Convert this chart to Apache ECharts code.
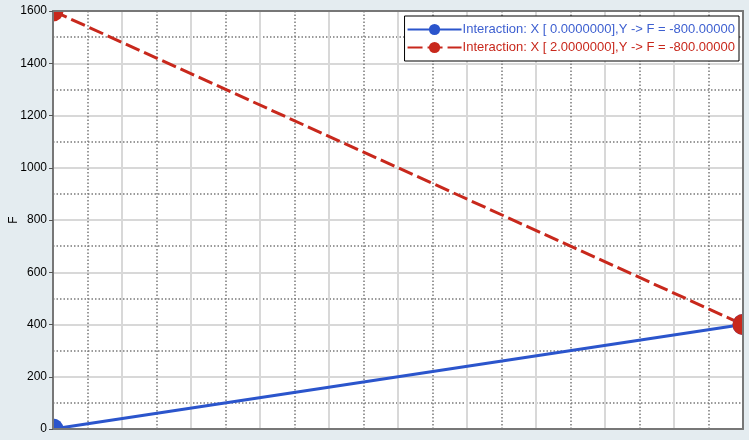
<!DOCTYPE html>
<html><head><meta charset="utf-8">
<script src="https://cdn.jsdelivr.net/npm/echarts@6/dist/echarts.min.js"></script>
<style>html,body{margin:0;padding:0;background:#e4ecf0}#c{width:749px;height:440px}</style>
</head><body><div id="c"></div>
<script>
const xValues = [0, 1];
const blueValues = [0, 400];
const redValues = [1600, 400];
const seriesNames = ['Interaction: X [ 0.0000000],Y -> F = -800.00000', 'Interaction: X [ 2.0000000],Y -> F = -800.00000'];
const yTicks = [0, 200, 400, 600, 800, 1000, 1200, 1400, 1600];

const BG = '#e4ecf0';
const L = 53, R = 6, T = 11, B = 11, W = 749, H = 440;
const chart = echarts.init(document.getElementById('c'), null, {renderer: 'canvas'});
const font = 'Liberation Sans, Arial, sans-serif';
const gridLine = {show: true, lineStyle: {color: '#d8d8d8', width: 2}};
const minorLine = {show: true, lineStyle: {color: '#7a7a7a', width: 1.5, type: [1.5, 2]}};
chart.setOption({
  backgroundColor: BG,
  animation: false,
  grid: {left: L, right: R, top: T, bottom: B, show: true, backgroundColor: '#fff', borderWidth: 0,
         containLabel: false, outerBoundsMode: 'none'},
  xAxis: [
    {type: 'value', min: xValues[0], max: xValues[xValues.length-1], interval: 0.1,
     axisLabel: {show: false}, axisTick: {show: false}, axisLine: {show: false},
     splitLine: gridLine, minorTick: {show: false, splitNumber: 2}, minorSplitLine: minorLine},
    {type: 'value', position: 'bottom', min: 0, max: 1, z: 10,
     axisLabel: {show: false}, axisTick: {show: false}, splitLine: {show: false},
     axisLine: {show: true, onZero: false, lineStyle: {color: '#777', width: 2}}},
    {type: 'value', position: 'top', min: 0, max: 1, z: 10,
     axisLabel: {show: false}, axisTick: {show: false}, splitLine: {show: false},
     axisLine: {show: true, onZero: false, lineStyle: {color: '#777', width: 2}}}
  ],
  yAxis: [
    {type: 'value', min: yTicks[0], max: yTicks[yTicks.length-1], interval: 200,
     axisLabel: {show: false}, axisTick: {show: false}, axisLine: {show: false},
     splitLine: gridLine, minorTick: {show: false, splitNumber: 2}, minorSplitLine: minorLine},
    {type: 'value', position: 'left', min: yTicks[0], max: yTicks[yTicks.length-1], interval: 200, z: 10,
     name: 'F', nameLocation: 'middle', nameGap: 33, nameRotate: 90, nameMoveOverlap: false,
     nameTextStyle: {color: '#000', fontFamily: font, fontSize: 12},
     axisLabel: {color: '#000', fontFamily: font, fontSize: 12, margin: 6, formatter: v => String(v)},
     axisTick: {show: true, length: 4, lineStyle: {color: '#555', width: 1}},
     axisLine: {show: true, onZero: false, lineStyle: {color: '#777', width: 2}},
     splitLine: {show: false}},
    {type: 'value', position: 'right', min: 0, max: 1600, z: 10,
     axisLabel: {show: false}, axisTick: {show: false}, splitLine: {show: false},
     axisLine: {show: true, onZero: false, lineStyle: {color: '#777', width: 2}}}
  ],
  graphic: [
    {type: 'rect', z: 5, silent: true, shape: {x: 0, y: 0, width: L, height: H}, style: {fill: BG}},
    {type: 'rect', z: 5, silent: true, shape: {x: 0, y: 0, width: W, height: T}, style: {fill: BG}},
    {type: 'rect', z: 5, silent: true, shape: {x: W - R, y: 0, width: R, height: H}, style: {fill: BG}},
    {type: 'rect', z: 5, silent: true, shape: {x: 0, y: H - B, width: W, height: B}, style: {fill: BG}}
  ],
  legend: {
    orient: 'vertical', right: 10, top: 16, z: 6,
    backgroundColor: '#fff', borderColor: '#000', borderWidth: 1, borderRadius: 0,
    padding: [7, 4, 7, 2], itemGap: 5, itemWidth: 54, itemHeight: 14,
    textStyle: {fontFamily: font, fontSize: 13, padding: [0, 0, 0, -4]},
    data: [
      {name: seriesNames[0], textStyle: {color: '#3d5fd0'}},
      {name: seriesNames[1], textStyle: {color: '#c8281c'}}
    ]
  },
  series: [
    {name: seriesNames[0], type: 'line', data: xValues.map((x, i) => [x, blueValues[i]]),
     symbol: 'circle', symbolSize: 21, showAllSymbol: true, clip: false,
     itemStyle: {color: '#2b55cc'}, lineStyle: {color: '#2b55cc', width: 3}},
    {name: seriesNames[1], type: 'line', data: xValues.map((x, i) => [x, redValues[i]]),
     symbol: 'circle', symbolSize: 21, showAllSymbol: true, clip: false,
     itemStyle: {color: '#c8281c'}, lineStyle: {color: '#c8281c', width: 3, type: [15, 5]}}
  ]
});
</script></body></html>
